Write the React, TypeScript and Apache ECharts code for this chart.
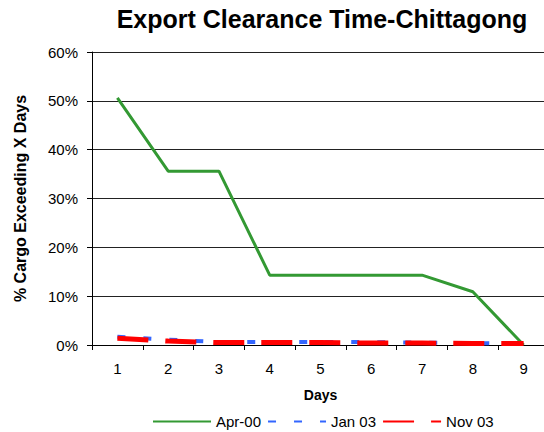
import React, { useEffect, useRef } from "react";
import * as echarts from "echarts";

const days = ["1", "2", "3", "4", "5", "6", "7", "8", "9"];
const apr00 = [50.6, 35.6, 35.6, 14.3, 14.3, 14.3, 14.3, 10.9, 0];
const jan03 = [1.7, 1.1, 0.6, 0.6, 0.6, 0.6, 0.5, 0.4, 0.3];
const nov03 = [1.4, 0.8, 0.5, 0.5, 0.5, 0.4, 0.4, 0.3, 0.3];

const FONT = "'Liberation Sans', Arial, sans-serif";

export default function App() {
  const ref = useRef<HTMLDivElement>(null);
  useEffect(() => {
    if (!ref.current) return;
    const chart = echarts.init(ref.current, undefined, { renderer: "svg" });
    chart.setOption({
      animation: false,
      backgroundColor: "#ffffff",
      title: {
        text: "Export Clearance Time-Chittagong",
        left: 317,
        textAlign: "center",
        top: 1,
        textStyle: { fontFamily: FONT, fontSize: 25, fontWeight: "bold", color: "#000" },
      },
      legend: {
        left: 147,
        top: 409,
        padding: 5,
        itemWidth: 58,
        itemHeight: 16,
        itemGap: 6,
        itemStyle: { opacity: 0 },
        textStyle: { fontFamily: FONT, fontSize: 15, color: "#000" },
        data: ["Apr-00", "Jan 03", "Nov 03"],
      },
      grid: { left: 92, right: 0, top: 52, bottom: 87, containLabel: false },
      xAxis: {
        type: "category",
        data: days,
        boundaryGap: true,
        name: "Days",
        nameLocation: "middle",
        nameGap: 43,
        nameTextStyle: { fontFamily: FONT, fontSize: 14, fontWeight: "bold", color: "#000" },
        axisLine: { lineStyle: { color: "#000", width: 1 } },
        axisTick: { show: true, length: 5, lineStyle: { color: "#000" } },
        axisLabel: { fontFamily: FONT, fontSize: 15, color: "#000", margin: 16 },
        splitLine: { show: false },
      },
      yAxis: {
        type: "value",
        min: 0,
        max: 60,
        interval: 10,
        name: "% Cargo Exceeding X Days",
        nameLocation: "middle",
        nameGap: 64,
        nameRotate: 90,
        nameTextStyle: { fontFamily: FONT, fontSize: 16, fontWeight: "bold", color: "#000" },
        axisLine: { show: true, lineStyle: { color: "#000", width: 1 } },
        axisTick: { show: true, length: 5, lineStyle: { color: "#000" } },
        axisLabel: { fontFamily: FONT, fontSize: 15, color: "#000", margin: 14, formatter: "{value}%" },
        splitLine: { show: true, lineStyle: { color: "#222", width: 1 } },
      },
      series: [
        {
          name: "Apr-00",
          type: "line",
          data: apr00,
          symbol: "none",
          color: "#339933",
          lineStyle: { color: "#339933", width: 3 },
        },
        {
          name: "Jan 03",
          type: "line",
          data: jan03,
          symbol: "none",
          color: "#3366ff",
          lineStyle: { color: "#3366ff", width: 4, type: [8, 18] },
        },
        {
          name: "Nov 03",
          type: "line",
          data: nov03,
          symbol: "none",
          color: "#ff0000",
          lineStyle: { color: "#ff0000", width: 5, type: [31, 17] },
        },
      ],
    });
    return () => chart.dispose();
  }, []);
  return (
    <div
      ref={ref}
      style={{ position: "fixed", left: 0, top: 0, width: 549, height: 432, background: "#fff" }}
    />
  );
}
